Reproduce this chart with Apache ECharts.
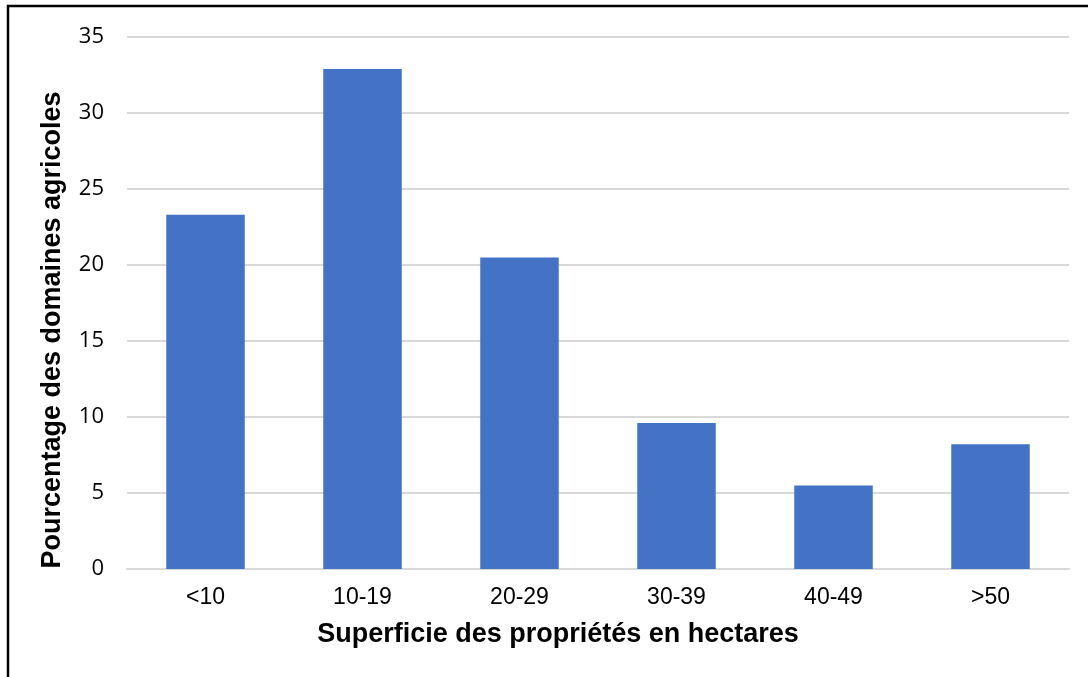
<!DOCTYPE html>
<html>
<head>
<meta charset="utf-8">
<script src="https://cdn.jsdelivr.net/npm/echarts@6/dist/echarts.min.js"></script>
<style>
  html, body { margin: 0; padding: 0; background: #fff; }
  #main { width: 1088px; height: 677px; }
</style>
</head>
<body>
<div id="main"></div>
<script>
// categories and values
const categories = ['<10', '10-19', '20-29', '30-39', '40-49', '>50'];
const percents = [23.3, 32.9, 20.5, 9.6, 5.5, 8.2];
const yTicks = { min: 0, max: 35, interval: 5 };

const chart = echarts.init(document.getElementById('main'));
chart.setOption({
  animation: false,
  backgroundColor: '#fff',
  grid: { left: 127, right: 19, top: 37, bottom: 108 },
  graphic: [
    {
      type: 'polyline',
      shape: { points: [[8, 680], [8, 6], [1090, 6]] },
      style: { stroke: '#000', lineWidth: 2.5, fill: null }
    }
  ],
  xAxis: {
    type: 'category',
    data: categories,
    axisLine: { show: true, lineStyle: { color: '#d9d9d9', width: 2 } },
    axisTick: { show: false },
    axisLabel: { color: '#000', fontFamily: 'Liberation Sans', fontSize: 23, margin: 17 },
    name: 'Superficie des propriétés en hectares',
    nameLocation: 'middle',
    nameGap: 52,
    nameTextStyle: {
      color: '#000', fontFamily: 'Liberation Sans', fontWeight: 'bold', fontSize: 27,
      padding: [0, 80, 0, 0]
    }
  },
  yAxis: {
    type: 'value',
    min: yTicks.min,
    max: yTicks.max,
    interval: yTicks.interval,
    axisLine: { show: false },
    axisTick: { show: false },
    splitLine: { lineStyle: { color: '#d9d9d9', width: 2 } },
    axisLabel: { color: '#000', fontFamily: 'Open Sans', fontSize: 22, margin: 23 },
    name: 'Pourcentage des domaines agricoles',
    nameLocation: 'middle',
    nameGap: 61,
    nameTextStyle: {
      color: '#000', fontFamily: 'Liberation Sans', fontWeight: 'bold', fontSize: 27,
      padding: [0, 54, 0, 0]
    }
  },
  series: [
    {
      type: 'bar',
      data: percents,
      barWidth: '50%',
      itemStyle: { color: '#4472c4' }
    }
  ]
});
</script>
</body>
</html>
